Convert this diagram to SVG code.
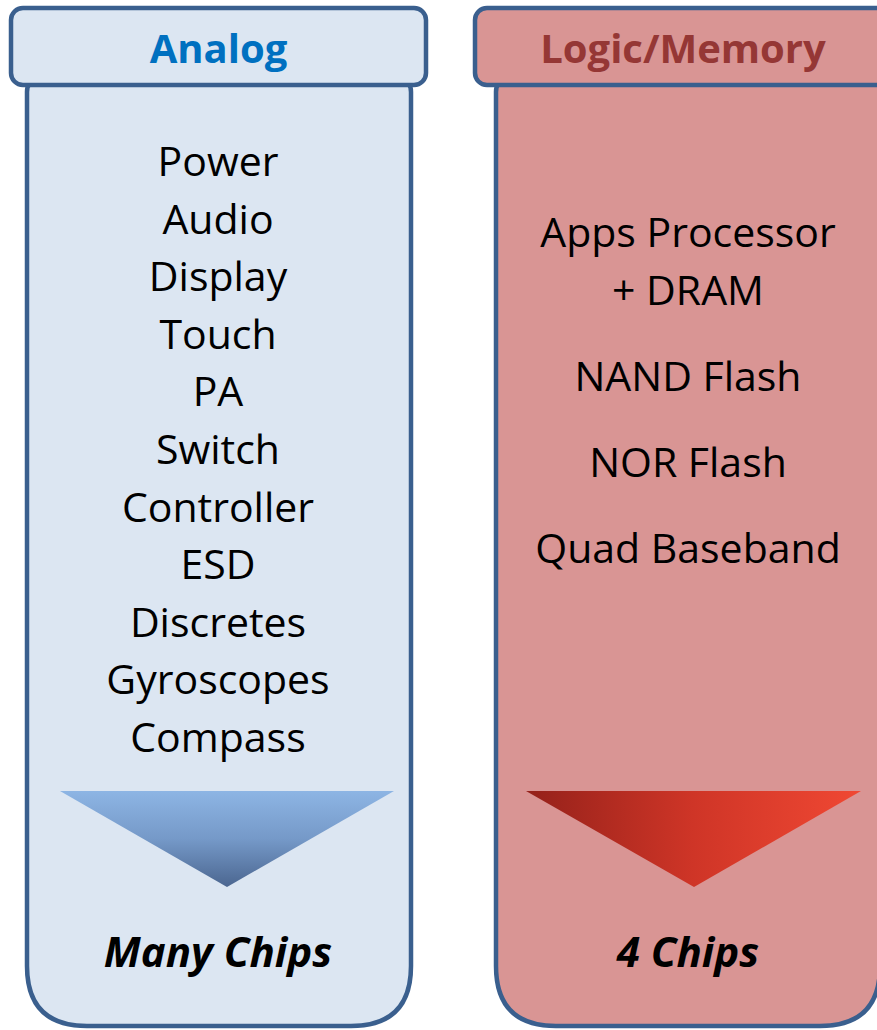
<svg xmlns="http://www.w3.org/2000/svg" width="877" height="1030" viewBox="0 0 877 1030">
<defs>
<linearGradient id="gBlue" x1="0" y1="0" x2="0" y2="1">
<stop offset="0" stop-color="#8DB5E4"/>
<stop offset="0.5" stop-color="#7599C8"/>
<stop offset="1" stop-color="#4B6690"/>
</linearGradient>
<linearGradient id="gRed" x1="0" y1="0" x2="1" y2="0">
<stop offset="0" stop-color="#94211A"/>
<stop offset="0.5" stop-color="#CF3527"/>
<stop offset="1" stop-color="#F04833"/>
</linearGradient>
<style>
.blue{fill:#DCE6F2;stroke:#3A5F8E;stroke-width:4.5}
.red{fill:#D99594;stroke:#3A5F8E;stroke-width:4.5}
.item{font-family:"Open Sans","Liberation Sans",sans-serif;font-size:41px;fill:#000;text-anchor:middle}
.head{font-family:"Open Sans","Liberation Sans",sans-serif;font-size:40px;font-weight:bold;text-anchor:middle}
.foot{font-family:"Open Sans","Liberation Sans",sans-serif;font-size:42px;font-weight:bold;font-style:italic;fill:#000;text-anchor:middle}
</style>
</defs>
<g id="analog">
<path class="blue" d="M27,92 Q27,80 39,80 L399,80 Q411,80 411,92 L411,966 Q411,1026 351,1026 L87,1026 Q27,1026 27,966 Z"/>
<rect class="blue" x="11" y="8" width="415" height="77" rx="12" ry="12"/>
<text class="head" x="218.5" y="63" fill="#0070C0">Analog</text>
<text class="item" x="218" y="176">Power</text>
<text class="item" x="218" y="233.6">Audio</text>
<text class="item" x="218" y="291.2">Display</text>
<text class="item" x="218" y="348.8">Touch</text>
<text class="item" x="218" y="406.4">PA</text>
<text class="item" x="218" y="464">Switch</text>
<text class="item" x="218" y="521.6">Controller</text>
<text class="item" x="218" y="579.2">ESD</text>
<text class="item" x="218" y="636.8">Discretes</text>
<text class="item" x="218" y="694.4">Gyroscopes</text>
<text class="item" x="218" y="752">Compass</text>
<polygon points="60,791 394,791 227,887" fill="url(#gBlue)"/>
<text class="foot" x="218" y="967">Many Chips</text>
</g>
<g id="logic">
<path class="red" d="M496,92 Q496,80 508,80 L868,80 Q880,80 880,92 L880,966 Q880,1026 820,1026 L556,1026 Q496,1026 496,966 Z"/>
<rect class="red" x="475" y="8" width="415" height="77" rx="12" ry="12"/>
<text class="head" x="683" y="63" fill="#953735">Logic/Memory</text>
<text class="item" x="688" y="247">Apps Processor</text>
<text class="item" x="688" y="305">+ DRAM</text>
<text class="item" x="688" y="391">NAND Flash</text>
<text class="item" x="688" y="477">NOR Flash</text>
<text class="item" x="688" y="563">Quad Baseband</text>
<polygon points="526,791 861,791 694,887" fill="url(#gRed)"/>
<text class="foot" x="688" y="967">4 Chips</text>
</g>
<g id="connectors"/>
</svg>
